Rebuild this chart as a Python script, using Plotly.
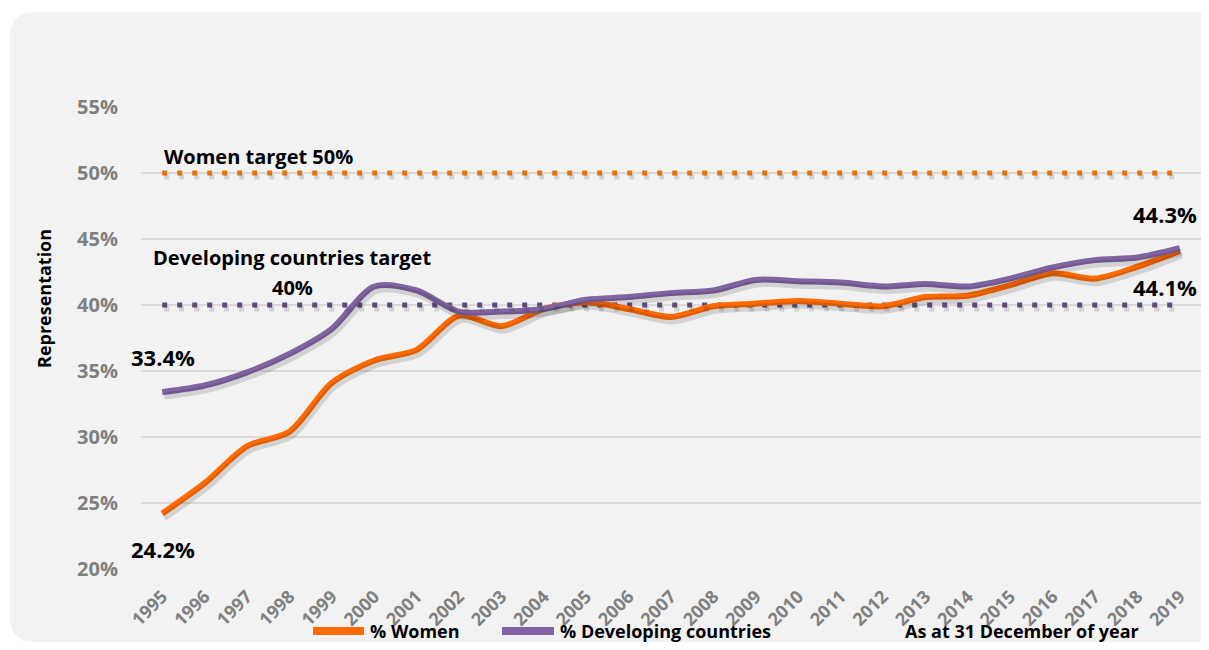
import plotly.graph_objects as go

years = [str(y) for y in range(1995, 2020)]
women = [24.2, 26.5, 29.3, 30.4, 34.1, 35.8, 36.6, 39.2, 38.4, 39.7, 40.2, 39.7, 39.1, 39.9,
         40.1, 40.3, 40.1, 39.9, 40.6, 40.7, 41.5, 42.4, 42.0, 42.9, 44.1]
developing = [33.4, 33.9, 34.9, 36.3, 38.2, 41.4, 41.1, 39.5, 39.5, 39.7, 40.4, 40.6, 40.9, 41.1,
              41.9, 41.8, 41.7, 41.4, 41.6, 41.4, 42.0, 42.85, 43.4, 43.6, 44.3]
women_target = [50.0] * len(years)
developing_target = [40.0] * len(years)
y_ticks = [20, 25, 30, 35, 40, 45, 50, 55]
y_tick_labels = ["20%", "25%", "30%", "35%", "40%", "45%", "50%", "55%"]

# page body has an 8px margin; figure sized to fit the window exactly
OFF = 8
W, H = 1193, 634
ML, MR, MT, MB = 133, 0, 99, 73
PW, PH = W - ML - MR, H - MT - MB


def px_x(sx):  # screenshot px -> paper
    return (sx - OFF - ML) / PW


def px_y(sy):
    return (H - MB - (sy - OFF)) / PH


FONT = "'Open Sans', sans-serif"
ORANGE = "#ff6a00"
PURPLE = "#8064a2"
DOT_ORANGE = "#e8730c"
DOT_PURPLE = "#604a7b"
GRAY = "#808080"
SHADOW = "rgba(0,0,0,0.13)"

YR = [20, 55]
XR = [-0.5, len(years) - 0.5]
px_per_unit_y = PH / (YR[1] - YR[0])
px_per_cat = PW / len(years)
dy, dx = 4 / px_per_unit_y, 2 / px_per_cat

fig = go.Figure()

# soft shadows (same data drawn on slightly offset overlay axes)
for yv, w in [(women_target, 5), (developing_target, 5)]:
    fig.add_trace(go.Scatter(x=years, y=yv, mode="lines", showlegend=False, hoverinfo="skip",
                             xaxis="x2", yaxis="y2",
                             line=dict(color=SHADOW, width=w, dash="5px,10px")))
for yv in [women, developing]:
    fig.add_trace(go.Scatter(x=years, y=yv, mode="lines", showlegend=False, hoverinfo="skip",
                             xaxis="x2", yaxis="y2",
                             line=dict(color=SHADOW, width=7, shape="spline", smoothing=0.8)))

fig.add_trace(go.Scatter(x=years, y=women_target, mode="lines", showlegend=False,
                         line=dict(color=DOT_ORANGE, width=5, dash="5px,10px"), hoverinfo="skip"))
fig.add_trace(go.Scatter(x=years, y=developing_target, mode="lines", showlegend=False,
                         line=dict(color=DOT_PURPLE, width=5, dash="5px,10px"), hoverinfo="skip"))
fig.add_trace(go.Scatter(x=years, y=women, mode="lines", name="% Women", showlegend=False,
                         line=dict(color=ORANGE, width=6, shape="spline", smoothing=0.8)))
fig.add_trace(go.Scatter(x=years, y=developing, mode="lines", name="% Developing countries",
                         showlegend=False,
                         line=dict(color=PURPLE, width=6, shape="spline", smoothing=0.8)))

# rounded background panel
x0, x1 = px_x(10), px_x(1240)
y0, y1 = px_y(642), px_y(12)
rx, ry = 25 / PW, 25 / PH
path = (f"M {x0+rx},{y1} L {x1-rx},{y1} Q {x1},{y1} {x1},{y1-ry} L {x1},{y0+ry} "
        f"Q {x1},{y0} {x1-rx},{y0} L {x0+rx},{y0} Q {x0},{y0} {x0},{y0+ry} "
        f"L {x0},{y1-ry} Q {x0},{y1} {x0+rx},{y1} Z")
fig.add_shape(type="path", path=path, xref="paper", yref="paper",
              fillcolor="#f2f2f2", line=dict(width=0), layer="below")

# custom legend line samples
LEG_Y = 631
fig.add_shape(type="line", xref="paper", yref="paper", x0=px_x(313), x1=px_x(364),
              y0=px_y(LEG_Y), y1=px_y(LEG_Y), line=dict(color=ORANGE, width=8))
fig.add_shape(type="line", xref="paper", yref="paper", x0=px_x(502), x1=px_x(554),
              y0=px_y(LEG_Y), y1=px_y(LEG_Y), line=dict(color=PURPLE, width=8))

ann_font = dict(family=FONT, size=20, color="#000000")
big_font = dict(family=FONT, size=22, color="#000000")
leg_font = dict(family=FONT, size=18, color="#000000")
annotations = [
    dict(x=px_x(162), y=px_y(156), text="<b>Women target 50%</b>", xanchor="left", font=ann_font),
    dict(x=px_x(292), y=px_y(257), text="<b>Developing countries target</b>",
         xanchor="center", font=ann_font),
    dict(x=px_x(292), y=px_y(287), text="<b>40%</b>", xanchor="center", font=ann_font),
    dict(x=px_x(129), y=px_y(357), text=f"<b>{developing[0]}%</b>", xanchor="left", font=big_font),
    dict(x=px_x(129), y=px_y(549), text=f"<b>{women[0]}%</b>", xanchor="left", font=big_font),
    dict(x=px_x(1199), y=px_y(214), text=f"<b>{developing[-1]}%</b>", xanchor="right", font=big_font),
    dict(x=px_x(1199), y=px_y(287), text=f"<b>{women[-1]}%</b>", xanchor="right", font=big_font),
    dict(x=px_x(1022), y=px_y(LEG_Y), text="<b>As at 31 December of year</b>", xanchor="center",
         font=leg_font),
    dict(x=px_x(44), y=px_y(299), text="<b>Representation</b>", textangle=-90, xanchor="center",
         font=dict(family=FONT, size=18, color="#000000")),
    dict(x=px_x(368), y=px_y(LEG_Y), text="<b>% Women</b>", xanchor="left", font=leg_font),
    dict(x=px_x(558), y=px_y(LEG_Y), text="<b>% Developing countries</b>", xanchor="left",
         font=leg_font),
]
for a in annotations:
    a.update(xref="paper", yref="paper", showarrow=False, yanchor="middle")
fig.update_layout(annotations=annotations)

fig.update_layout(
    width=W, height=H,
    margin=dict(l=ML, r=MR, t=MT, b=MB),
    paper_bgcolor="#ffffff",
    plot_bgcolor="rgba(0,0,0,0)",
    font=dict(family=FONT),
    showlegend=False,
    xaxis=dict(type="category", range=XR, showgrid=False, zeroline=False,
               showline=False, tickangle=-45, ticks="outside", ticklen=9,
               tickcolor="rgba(0,0,0,0)",
               tickfont=dict(family=FONT, size=18, color=GRAY, weight="bold")),
    yaxis=dict(range=YR, tickvals=y_ticks, ticktext=y_tick_labels, showgrid=True,
               gridcolor="#d9d9d9", gridwidth=1.5, zeroline=False, showline=False,
               ticklabelstandoff=22,
               tickfont=dict(family=FONT, size=20, color=GRAY, weight="bold")),
    xaxis2=dict(type="category", overlaying="x", range=[XR[0] - dx, XR[1] - dx], visible=False),
    yaxis2=dict(overlaying="y", range=[YR[0] + dy, YR[1] + dy], visible=False),
)

fig.write_html("out.html")
